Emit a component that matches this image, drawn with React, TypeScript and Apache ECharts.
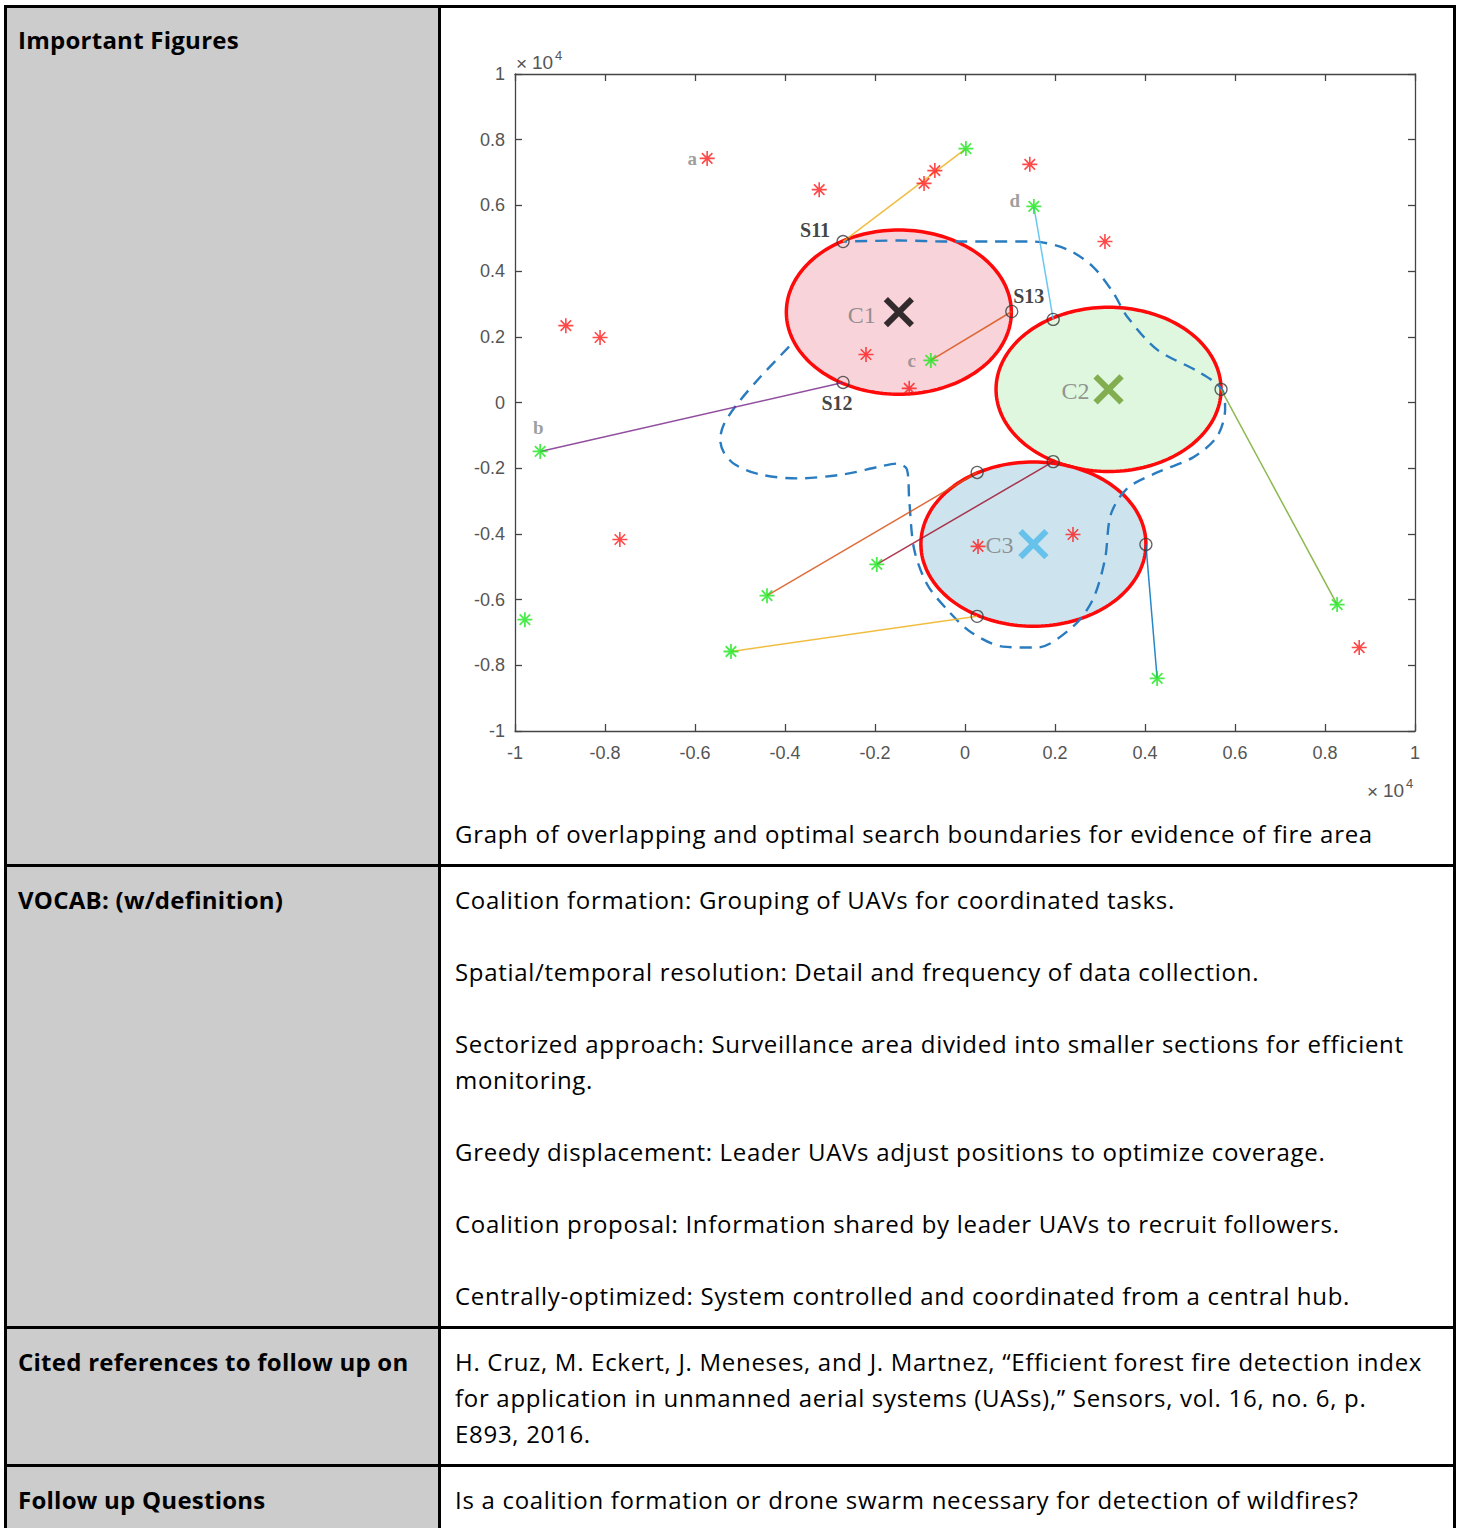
import React, { useEffect, useRef } from "react";
import * as echarts from "echarts";

// Axis ticks (units of 10^4 m)
const tickValues = [-1, -0.8, -0.6, -0.4, -0.2, 0, 0.2, 0.4, 0.6, 0.8, 1];

// Coalition search areas
const coalitionNames = ["C1", "C2", "C3"];
const coalitionCenters: number[][] = [
  [-0.147, 0.275],
  [0.319, 0.04],
  [0.152, -0.431],
];
const coalitionRadius = 0.25;
const coalitionFills = ["#f8d3d9", "#dff6df", "#cde4ef"];
const coalitionCrossColors = ["#000000", "#6c9c2c", "#4cb9e9"];

// Boundary waypoints on the coalition circles
const waypoints: number[][] = [
  [-0.271, 0.49],
  [-0.271, 0.061],
  [0.104, 0.277],
  [0.196, 0.253],
  [0.569, 0.04],
  [0.196, -0.18],
  [0.027, -0.213],
  [0.402, -0.432],
  [0.027, -0.651],
];
const waypointNames = ["S11", "S12", "S13", "", "", "", "", "", ""];

// Follower UAVs (green) and fire evidence points (red)
const followerUavs: number[][] = [
  [0.002, 0.773],
  [0.153, 0.597],
  [-0.076, 0.128],
  [-0.944, -0.149],
  [-0.978, -0.661],
  [-0.44, -0.588],
  [-0.196, -0.493],
  [-0.52, -0.758],
  [0.427, -0.84],
  [0.827, -0.615],
];
const followerNames = ["", "d", "c", "b", "", "", "", "", "", ""];

const firePoints: number[][] = [
  [-0.573, 0.743],
  [-0.324, 0.648],
  [-0.091, 0.667],
  [-0.067, 0.706],
  [0.144, 0.725],
  [0.311, 0.49],
  [-0.887, 0.234],
  [-0.811, 0.198],
  [-0.22, 0.146],
  [-0.124, 0.043],
  [-0.767, -0.417],
  [0.029, -0.438],
  [0.24, -0.402],
  [0.876, -0.746],
];
const fireNames = ["a", "", "", "", "", "", "", "", "", "", "", "", "", ""];

// Waypoint -> follower assignments
const links: number[][] = [
  [0, 0],
  [2, 2],
  [3, 1],
  [1, 3],
  [4, 9],
  [6, 5],
  [5, 6],
  [8, 7],
  [7, 8],
];
const linkColors = [
  "#EDB120",
  "#D95319",
  "#4DBEEE",
  "#7E2F8E",
  "#77AC30",
  "#D95319",
  "#A2142F",
  "#EDB120",
  "#0072BD",
];

// Optimal search boundary (open path; the rest follows the C1 circle)
const boundaryPath: number[][] = [
  [-0.391, 0.17],
  [-0.456, 0.076],
  [-0.507, -0.006],
  [-0.536, -0.067],
  [-0.544, -0.113],
  [-0.536, -0.152],
  [-0.511, -0.189],
  [-0.456, -0.219],
  [-0.373, -0.231],
  [-0.271, -0.219],
  [-0.189, -0.195],
  [-0.151, -0.186],
  [-0.129, -0.204],
  [-0.124, -0.295],
  [-0.113, -0.447],
  [-0.084, -0.554],
  [-0.04, -0.63],
  [0.011, -0.697],
  [0.084, -0.743],
  [0.16, -0.746],
  [0.24, -0.682],
  [0.284, -0.6],
  [0.311, -0.478],
  [0.324, -0.341],
  [0.36, -0.262],
  [0.422, -0.216],
  [0.507, -0.167],
  [0.56, -0.104],
  [0.578, -0.021],
  [0.571, 0.04],
  [0.522, 0.091],
  [0.427, 0.161],
  [0.36, 0.262],
  [0.329, 0.335],
  [0.284, 0.414],
  [0.227, 0.466],
  [0.151, 0.49],
  [0.056, 0.49],
  [-0.04, 0.49],
  [-0.144, 0.493],
  [-0.271, 0.49],
];

// Label offsets (pixels) relative to the marker they name
const labelOffsets: Record<string, number[]> = {
  S11: [-28, -12],
  S12: [-6, 21],
  S13: [17, -16],
  a: [-15, 0],
  b: [-2, -24],
  c: [-19, 0],
  d: [-19, -6],
  C1: [-37, 3],
  C2: [-33, 2],
  C3: [-34, 1],
};

const vocabLines = [
  { top: 882, text: "Coalition formation: Grouping of UAVs for coordinated tasks." },
  { top: 954, text: "Spatial/temporal resolution: Detail and frequency of data collection." },
  { top: 1026, text: "Sectorized approach: Surveillance area divided into smaller sections for efficient" },
  { top: 1062, text: "monitoring." },
  { top: 1134, text: "Greedy displacement: Leader UAVs adjust positions to optimize coverage." },
  { top: 1206, text: "Coalition proposal: Information shared by leader UAVs to recruit followers." },
  { top: 1278, text: "Centrally-optimized: System controlled and coordinated from a central hub." },
];
const citeLines = [
  { top: 1344, text: "H. Cruz, M. Eckert, J. Meneses, and J. Martnez, \u201cEfficient forest fire detection index" },
  { top: 1380, text: "for application in unmanned aerial systems (UASs),\u201d Sensors, vol. 16, no. 6, p." },
  { top: 1416, text: "E893, 2016." },
];

const ASTERISK = "path://M10 0 L10 20 M0 10 L20 10 M3 3 L17 17 M3 17 L17 3";
const CROSS = "path://M0 0 L20 20 M20 0 L0 20";

const fmt = (v: number) => String(Math.round(v * 10) / 10);

function itemLabel(name: string, style: any) {
  if (!name) return undefined;
  return {
    show: true,
    formatter: name,
    position: "inside",
    offset: labelOffsets[name] || [0, 0],
    ...style,
  };
}

function coalitionSeries(i: number, z: number) {
  return {
    type: "custom",
    coordinateSystem: "cartesian2d",
    silent: true,
    z,
    data: [[coalitionCenters[i][0], coalitionCenters[i][1], coalitionRadius]],
    renderItem: (_p: any, api: any) => {
      const cx = api.value(0);
      const cy = api.value(1);
      const r = api.value(2);
      const pts: number[][] = [];
      for (let k = 0; k < 180; k++) {
        const t = (k / 180) * Math.PI * 2;
        pts.push(api.coord([cx + r * Math.cos(t), cy + r * Math.sin(t)]));
      }
      return {
        type: "polygon",
        shape: { points: pts },
        style: { fill: coalitionFills[i], stroke: "#ff0a0a", lineWidth: 3.5 },
      };
    },
  };
}

function buildOption() {
  const axisColor = "#444444";
  const labelStyle = {
    color: "#555555",
    fontSize: 18,
    fontFamily: "'Liberation Sans', Arial, sans-serif",
    formatter: fmt,
    showMinLabel: true,
    showMaxLabel: true,
  };
  const baseAxis = {
    type: "value",
    min: tickValues[0],
    max: tickValues[tickValues.length - 1],
    interval: 0.2,
    splitLine: { show: false },
    axisLine: { show: true, onZero: false, lineStyle: { color: axisColor, width: 1.3 } },
    axisTick: { show: true, inside: true, length: 7, lineStyle: { color: axisColor, width: 1.3 } },
  };

  const serifLabel = {
    fontFamily: "'Liberation Serif', 'Times New Roman', serif",
    align: "center",
    verticalAlign: "middle",
  };

  const series: any[] = [];
  series.push(coalitionSeries(0, 1));
  series.push(coalitionSeries(1, 1));
  series.push(coalitionSeries(2, 1));
  series.push({
    type: "line",
    data: boundaryPath,
    smooth: 0.3,
    symbol: "none",
    silent: true,
    z: 2,
    lineStyle: { color: "#2a7cc0", width: 2.4, type: [12, 8] },
  });

  links.forEach(([w, f], i) => {
    series.push({
      type: "line",
      data: [waypoints[w], followerUavs[f]],
      symbol: "none",
      silent: true,
      z: 4,
      lineStyle: { color: linkColors[i], width: 1.5, opacity: 0.85 },
    });
  });

  series.push({
    type: "scatter",
    z: 5,
    silent: true,
    symbol: "circle",
    symbolSize: 12,
    itemStyle: { color: "rgba(0,0,0,0)", borderColor: "#3a3a3a", borderWidth: 1.3 },
    data: waypoints.map((p, i) => ({
      value: p,
      label: itemLabel(waypointNames[i], {
        ...serifLabel,
        color: "#111",
        fontWeight: "bold",
        fontSize: 20,
      }),
    })),
  });

  series.push({
    type: "scatter",
    z: 5,
    silent: true,
    symbol: ASTERISK,
    symbolSize: 15,
    itemStyle: { color: "none", borderColor: "#1fe61f", borderWidth: 1.8 },
    data: followerUavs.map((p, i) => ({
      value: p,
      label: itemLabel(followerNames[i], {
        ...serifLabel,
        color: "#858585",
        fontWeight: "bold",
        fontSize: 19,
      }),
    })),
  });

  series.push({
    type: "scatter",
    z: 5,
    silent: true,
    symbol: ASTERISK,
    symbolSize: 15,
    itemStyle: { color: "none", borderColor: "#ff1a1a", borderWidth: 1.6 },
    data: firePoints.map((p, i) => ({
      value: p,
      label: itemLabel(fireNames[i], {
        ...serifLabel,
        color: "#858585",
        fontWeight: "bold",
        fontSize: 19,
      }),
    })),
  });

  series.push({
    type: "scatter",
    z: 6,
    silent: true,
    symbol: CROSS,
    symbolSize: 26,
    data: coalitionCenters.map((p, i) => ({
      value: p,
      itemStyle: { color: "none", borderColor: coalitionCrossColors[i], borderWidth: 6 },
      label: itemLabel(coalitionNames[i], {
        ...serifLabel,
        color: "#7a7a7a",
        fontSize: 24,
      }),
    })),
  });

  const expText = (x: number, y: number, text: string, size: number) => ({
    type: "text",
    x,
    y,
    silent: true,
    style: {
      text,
      fill: "#555555",
      fontSize: size,
      fontFamily: "'Liberation Sans', Arial, sans-serif",
      verticalAlign: "middle",
    },
  });

  return {
    animation: false,
    backgroundColor: "transparent",
    grid: { left: 74, top: 66, width: 900, height: 657, containLabel: false },
    xAxis: [
      { ...baseAxis, position: "bottom", axisLabel: { ...labelStyle, margin: 13 } },
      { ...baseAxis, position: "top", axisLabel: { show: false } },
    ],
    yAxis: [
      { ...baseAxis, position: "left", axisLabel: { ...labelStyle, margin: 10 } },
      { ...baseAxis, position: "right", axisLabel: { show: false } },
    ],
    graphic: [
      expText(75, 55, "\u00d7", 19),
      expText(91, 54, "10", 19),
      expText(114, 47, "4", 13),
      expText(926, 783, "\u00d7", 19),
      expText(942, 782, "10", 19),
      expText(965, 775, "4", 13),
    ],
    series,
  };
}

function SearchChart() {
  const ref = useRef<HTMLDivElement>(null);
  useEffect(() => {
    if (!ref.current) return;
    const chart = echarts.init(ref.current, undefined, { renderer: "svg" });
    chart.setOption(buildOption() as any);
    return () => chart.dispose();
  }, []);
  return (
    <div
      ref={ref}
      style={{ position: "absolute", left: 441, top: 8, width: 1012, height: 800 }}
    />
  );
}

const bodyFont = "'Open Sans', 'Noto Sans', sans-serif";

function Line({ left, top, text, bold }: { left: number; top: number; text: string; bold?: boolean }) {
  return (
    <div
      style={{
        position: "absolute",
        left,
        top,
        fontSize: 24,
        lineHeight: "36px",
        letterSpacing: bold ? "0.25px" : "0.7px",
        fontWeight: bold ? 700 : 400,
        whiteSpace: "nowrap",
        color: "#000",
      }}
    >
      {text}
    </div>
  );
}

export default function App() {
  const rule = (style: React.CSSProperties) => (
    <div style={{ position: "absolute", background: "#000", ...style }} />
  );
  return (
    <div
      style={{
        position: "absolute",
        left: 0,
        top: 0,
        width: 1457,
        height: 1528,
        background: "#fff",
        overflow: "hidden",
        fontFamily: bodyFont,
      }}
    >
      <div style={{ position: "absolute", left: 7, top: 8, width: 431, height: 1530, background: "#cccccc" }} />
      {rule({ left: 4, top: 5, width: 1452, height: 3 })}
      {rule({ left: 4, top: 864, width: 1452, height: 3 })}
      {rule({ left: 4, top: 1326, width: 1452, height: 3 })}
      {rule({ left: 4, top: 1464, width: 1452, height: 3 })}
      {rule({ left: 4, top: 5, width: 3, height: 1530 })}
      {rule({ left: 438, top: 5, width: 3, height: 1530 })}
      {rule({ left: 1453, top: 5, width: 3, height: 1530 })}

      <Line left={18} top={22} text="Important Figures" bold />
      <Line left={18} top={882} text="VOCAB: (w/definition)" bold />
      <Line left={18} top={1344} text="Cited references to follow up on" bold />
      <Line left={18} top={1482} text="Follow up Questions" bold />

      <SearchChart />
      <Line left={455} top={816} text="Graph of overlapping and optimal search boundaries for evidence of fire area" />
      {vocabLines.map((l, i) => (
        <Line key={"v" + i} left={455} top={l.top} text={l.text} />
      ))}
      {citeLines.map((l, i) => (
        <Line key={"c" + i} left={455} top={l.top} text={l.text} />
      ))}
      <Line left={455} top={1482} text="Is a coalition formation or drone swarm necessary for detection of wildfires?" />
    </div>
  );
}
